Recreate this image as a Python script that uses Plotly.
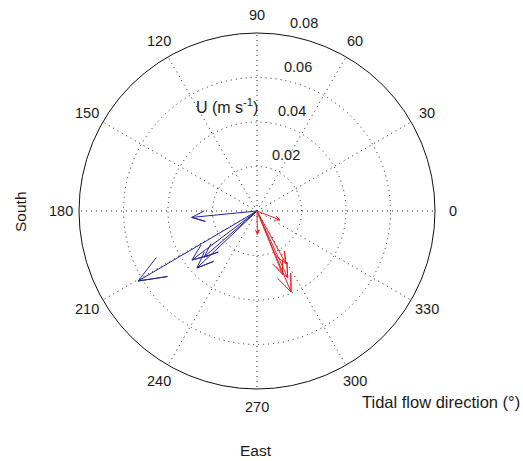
import numpy as np
import plotly.graph_objects as go

# ---- data ----
blue_speed = [0.0295, 0.0620, 0.0366, 0.0372, 0.0315]
blue_dir = [185.6, 210.5, 217.0, 223.5, 221.0]
red_speed = [0.0111, 0.0105, 0.0395, 0.0271, 0.0307, 0.0330]
red_dir = [338.6, 271.0, 292.8, 298.7, 292.0, 294.7]
angle_ticks = [0, 30, 60, 90, 120, 150, 180, 210, 240, 270, 300, 330]
r_ticks = [0.02, 0.04, 0.06, 0.08]
r_max = 0.08

W, H = 523, 461
CX, CY, RAD = 257, 211, 178  # polar plot centre & radius in px

BLUE = "#2626a0"
RED = "#e3262b"
TXT = "#1a1a1a"
FONT = "Liberation Sans, Arial, sans-serif"
NUM_SIZE = 14.5
LAB_SIZE = 15.5


def arrow(speed, direc):
    # MATLAB compass style arrow: 0 -> tip, barbs at 0.8 length, +-0.08 perpendicular
    rb = speed * np.hypot(0.8, 0.08)
    db = np.degrees(np.arctan2(0.08, 0.8))
    r = [0, speed, rb, speed, rb]
    t = [direc, direc, direc + db, direc, direc - db]
    return r, t


fig = go.Figure()
for s, d in zip(blue_speed, blue_dir):
    r, t = arrow(s, d)
    fig.add_trace(go.Scatterpolar(r=r, theta=t, mode="lines",
                                  line=dict(color=BLUE, width=1), showlegend=False,
                                  hoverinfo="skip"))
for s, d in zip(red_speed, red_dir):
    r, t = arrow(s, d)
    fig.add_trace(go.Scatterpolar(r=r, theta=t, mode="lines",
                                  line=dict(color=RED, width=1), showlegend=False,
                                  hoverinfo="skip"))

ann = []
# angular labels at 1.1 * rmax
for a in angle_ticks:
    x = CX + 1.1 * RAD * np.cos(np.radians(a))
    y = CY - 1.1 * RAD * np.sin(np.radians(a))
    ann.append(dict(x=x / W, y=1 - y / H, xref="paper", yref="paper", text=str(a),
                    showarrow=False, font=dict(size=NUM_SIZE, color=TXT, family=FONT),
                    xanchor="center", yanchor="middle"))
# radial labels at 82 degrees
c82, s82 = np.cos(np.radians(82)), np.sin(np.radians(82))
for rv in r_ticks:
    rp = (rv + r_max / 4 / 20) / r_max * RAD
    x = CX + rp * c82 + 6
    y = CY - rp * s82
    ann.append(dict(x=x / W, y=1 - y / H, xref="paper", yref="paper", text=f"{rv:.2f}",
                    showarrow=False, font=dict(size=NUM_SIZE, color=TXT, family=FONT),
                    xanchor="left", yanchor="bottom"))
ann.append(dict(x=227 / W, y=1 - 106 / H, xref="paper", yref="paper",
                text="U (m s<sup>-1</sup>)", showarrow=False,
                font=dict(size=16, color=TXT, family=FONT), xanchor="center", yanchor="middle"))
ann.append(dict(x=522 / W, y=1 - 402 / H, xref="paper", yref="paper",
                text="Tidal flow direction (°)", showarrow=False,
                font=dict(size=16.5, color=TXT, family=FONT), xanchor="right", yanchor="middle"))
ann.append(dict(x=256 / W, y=1 - 450 / H, xref="paper", yref="paper", text="East",
                showarrow=False, font=dict(size=LAB_SIZE, color=TXT, family=FONT),
                xanchor="center", yanchor="middle"))
ann.append(dict(x=20 / W, y=1 - 212 / H, xref="paper", yref="paper", text="South",
                showarrow=False, textangle=-90, font=dict(size=LAB_SIZE, color=TXT, family=FONT),
                xanchor="center", yanchor="middle"))

fig.update_layout(
    width=W, height=H,
    margin=dict(l=0, r=0, t=0, b=0),
    paper_bgcolor="white", plot_bgcolor="white",
    showlegend=False,
    annotations=ann,
    polar=dict(
        domain=dict(x=[(CX - RAD) / W, (CX + RAD) / W],
                    y=[1 - (CY + RAD) / H, 1 - (CY - RAD) / H]),
        bgcolor="white",
        radialaxis=dict(range=[0, r_max], tickvals=r_ticks, showticklabels=False,
                        ticks="", showline=False, gridcolor="#222222", griddash="1px,4px",
                        gridwidth=1),
        angularaxis=dict(direction="counterclockwise", rotation=0,
                         tickvals=angle_ticks, showticklabels=False, ticks="",
                         showline=True, linecolor="#111111", linewidth=1,
                         gridcolor="#222222", griddash="1px,4px", gridwidth=1),
    ),
)

fig.write_html("out.html")
